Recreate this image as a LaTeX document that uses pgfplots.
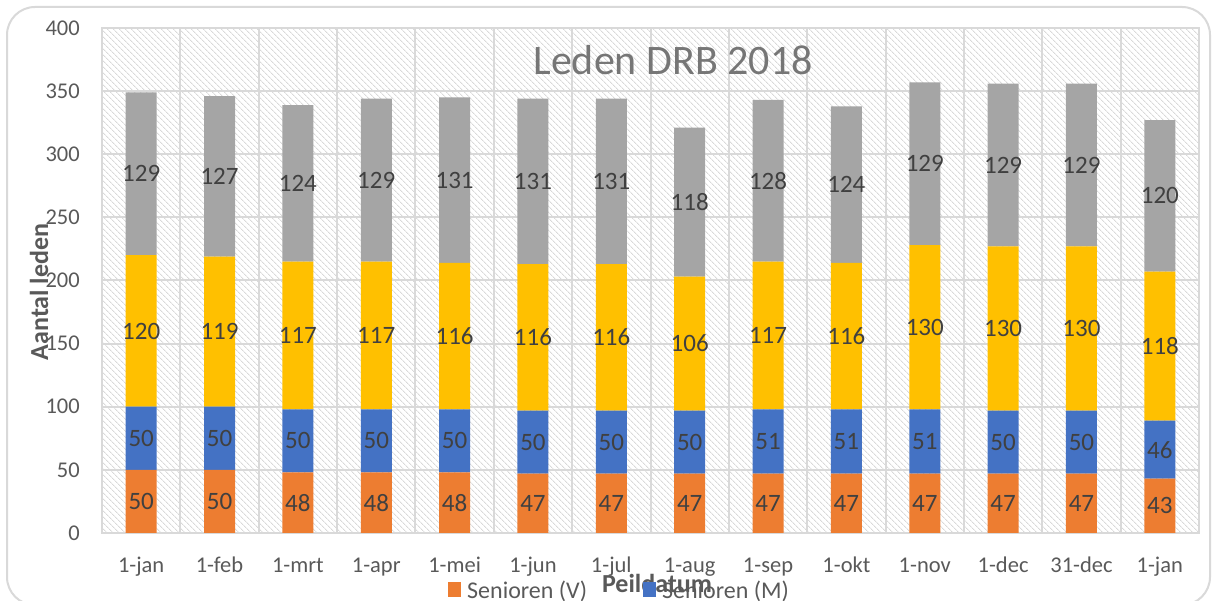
\documentclass[border=0pt]{standalone}
\usepackage{fontspec}
\setmainfont{Carlito}
\usepackage{pgfplots}
\pgfplotsset{compat=1.18}
\usetikzlibrary{patterns.meta}
\definecolor{cV}{HTML}{ED7D31}
\definecolor{cM}{HTML}{4472C4}
\definecolor{cY}{HTML}{FFC000}
\definecolor{cG}{HTML}{A5A5A5}
\definecolor{gridc}{HTML}{D9D9D9}
\definecolor{txt}{HTML}{595959}
\definecolor{lbl}{HTML}{404040}
\definecolor{ttl}{HTML}{767676}
\begin{document}
\begin{tikzpicture}
\path[use as bounding box] (0pt,0pt) rectangle (1212pt,601pt);
\begin{scope}
\clip (0pt,0pt) rectangle (1212pt,601pt);
\draw[gridc, line width=2pt, rounded corners=28pt] (7pt,-4pt) rectangle (1210pt,594pt);
\end{scope}
\node[anchor=base, font=\bfseries\fontsize{26}{30}\selectfont, text=txt] at (657pt,8pt) {Peildatum};
\node[rotate=90, anchor=base, font=\bfseries\fontsize{26}{30}\selectfont, text=txt] at (48pt,309pt) {Aantal leden};
\begin{axis}[
  at={(102pt,68pt)}, anchor=south west,
  scale only axis, width=1097pt, height=505pt,
  ybar stacked, bar width=31pt,
  xmin=0.5, xmax=14.5, ymin=0, ymax=400,
  xtick={1,...,14},
  xticklabels={1-jan,1-feb,1-mrt,1-apr,1-mei,1-jun,1-jul,1-aug,1-sep,1-okt,1-nov,1-dec,31-dec,1-jan},
  minor xtick={1.5,2.5,...,13.5}, xminorgrids,
  ytick={0,50,...,400}, ymajorgrids,
  major grid style={gridc, line width=2pt},
  minor grid style={gridc, line width=2pt},
  axis line style={gridc, line width=2pt},
  major tick length=0pt, minor tick length=0pt,
  /pgf/number format/assume math mode=true,
  axis background/.style={pattern={Lines[angle=-45,distance=4pt,line width=0.9pt]}, pattern color=gridc},
  tick label style={font=\fontsize{22.5}{24}\selectfont, text=txt},
  xticklabel style={anchor=base, yshift=-40pt},
  yticklabel style={anchor=east, inner sep=0pt, xshift=-22pt},
  nodes near coords,
  every node near coord/.append style={anchor=center, font=\fontsize{25}{28}\selectfont, text=lbl},
  legend columns=2,
  legend style={at={(0.3154,-0.1326)}, anchor=south west, draw=none, fill=none, inner sep=0pt,
    font=\fontsize{24}{26}\selectfont, text=txt,
    nodes={inner sep=0pt},
    /tikz/every odd column/.append style={column sep=6pt},
    /tikz/every even column/.append style={column sep=56pt}},
  legend image code/.code={\fill[#1] (0pt,-7pt) rectangle (13pt,8pt);},
]
\addplot[fill=cV, draw=none] coordinates {(1,50) (2,50) (3,48) (4,48) (5,48) (6,47) (7,47) (8,47) (9,47) (10,47) (11,47) (12,47) (13,47) (14,43)};
\addplot[fill=cM, draw=none] coordinates {(1,50) (2,50) (3,50) (4,50) (5,50) (6,50) (7,50) (8,50) (9,51) (10,51) (11,51) (12,50) (13,50) (14,46)};
\addplot[fill=cY, draw=none] coordinates {(1,120) (2,119) (3,117) (4,117) (5,116) (6,116) (7,116) (8,106) (9,117) (10,116) (11,130) (12,130) (13,130) (14,118)};
\addplot[fill=cG, draw=none] coordinates {(1,129) (2,127) (3,124) (4,129) (5,131) (6,131) (7,131) (8,118) (9,128) (10,124) (11,129) (12,129) (13,129) (14,120)};
\legend{Senioren (V), Senioren (M)}
\end{axis}
\node[anchor=base, font=\fontsize{42}{46}\selectfont, text=ttl] at (673pt,526pt) {Leden DRB 2018};
\end{tikzpicture}
\end{document}
